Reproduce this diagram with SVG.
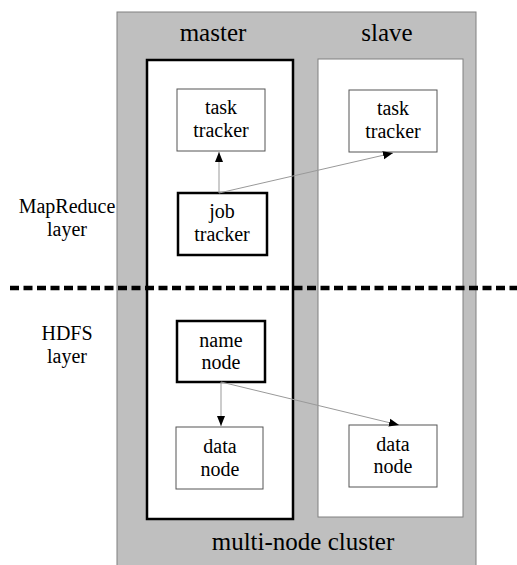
<svg xmlns="http://www.w3.org/2000/svg" width="517" height="565" viewBox="0 0 517 565">
<style>
.t{fill:#000;text-anchor:middle;font-family:"Liberation Serif","Times New Roman",serif;font-size:25px}
.box{fill:#fff;stroke:#555;stroke-width:1}
.bold{fill:#fff;stroke:#000;stroke-width:2.5}
.conn{stroke:#999;stroke-width:1;fill:none;marker-end:url(#ah)}
</style>
<defs>
<marker id="ah" viewBox="0 0 10 10" refX="10" refY="5" markerWidth="10" markerHeight="10" markerUnits="userSpaceOnUse" orient="auto">
<path d="M0,1 L10,5 L0,9 Z" fill="#000"/>
</marker>
</defs>
<rect width="517" height="565" fill="#fff"/>
<g id="cluster">
<rect x="117" y="12" width="359" height="560" fill="#bfbfbf" stroke="#808080" stroke-width="1"/>
<text class="t" x="303" y="550">multi-node cluster</text>
</g>
<g id="master">
<rect x="147" y="60" width="146" height="459" class="bold" stroke-width="3"/>
<text class="t" x="213" y="41">master</text>
</g>
<g id="slave">
<rect x="318" y="59" width="145" height="458" fill="#fff" stroke="#808080" stroke-width="1"/>
<text class="t" x="387" y="41">slave</text>
</g>
<g id="labels">
<text class="t" transform="translate(67 213) scale(0.8)">MapReduce</text>
<text class="t" transform="translate(67 236) scale(0.8)">layer</text>
<text class="t" transform="translate(67 340) scale(0.8)">HDFS</text>
<text class="t" transform="translate(67 363) scale(0.8)">layer</text>
<line x1="10" y1="288" x2="517" y2="288" stroke="#000" stroke-width="4.5" stroke-dasharray="9,4.5"/>
</g>
<g id="master-task-tracker">
<rect x="177" y="89" width="88" height="62" class="box"/>
<text class="t" transform="translate(221 114) scale(0.8)">task</text>
<text class="t" transform="translate(221 137) scale(0.8)">tracker</text>
</g>
<g id="slave-task-tracker">
<rect x="349" y="90" width="88" height="62" class="box"/>
<text class="t" transform="translate(393 115) scale(0.8)">task</text>
<text class="t" transform="translate(393 138) scale(0.8)">tracker</text>
</g>
<g id="job-tracker">
<rect x="178" y="193" width="89" height="62" class="bold"/>
<text class="t" transform="translate(222 218) scale(0.8)">job</text>
<text class="t" transform="translate(222 241) scale(0.8)">tracker</text>
</g>
<g id="name-node">
<rect x="177" y="321" width="88" height="61" class="bold"/>
<text class="t" transform="translate(221 347) scale(0.8)">name</text>
<text class="t" transform="translate(221 369) scale(0.8)">node</text>
</g>
<g id="master-data-node">
<rect x="176" y="427" width="87" height="62" class="box"/>
<text class="t" transform="translate(220 453) scale(0.8)">data</text>
<text class="t" transform="translate(220 476) scale(0.8)">node</text>
</g>
<g id="slave-data-node">
<rect x="349" y="425" width="88" height="62" class="box"/>
<text class="t" transform="translate(393 451) scale(0.8)">data</text>
<text class="t" transform="translate(393 473) scale(0.8)">node</text>
</g>
<g id="connectors">
<line x1="219" y1="193" x2="219" y2="152" class="conn"/>
<line x1="219" y1="193" x2="393" y2="153" class="conn"/>
<line x1="221" y1="382" x2="221" y2="426" class="conn"/>
<line x1="221" y1="382" x2="399" y2="425" class="conn"/>
</g>
</svg>
